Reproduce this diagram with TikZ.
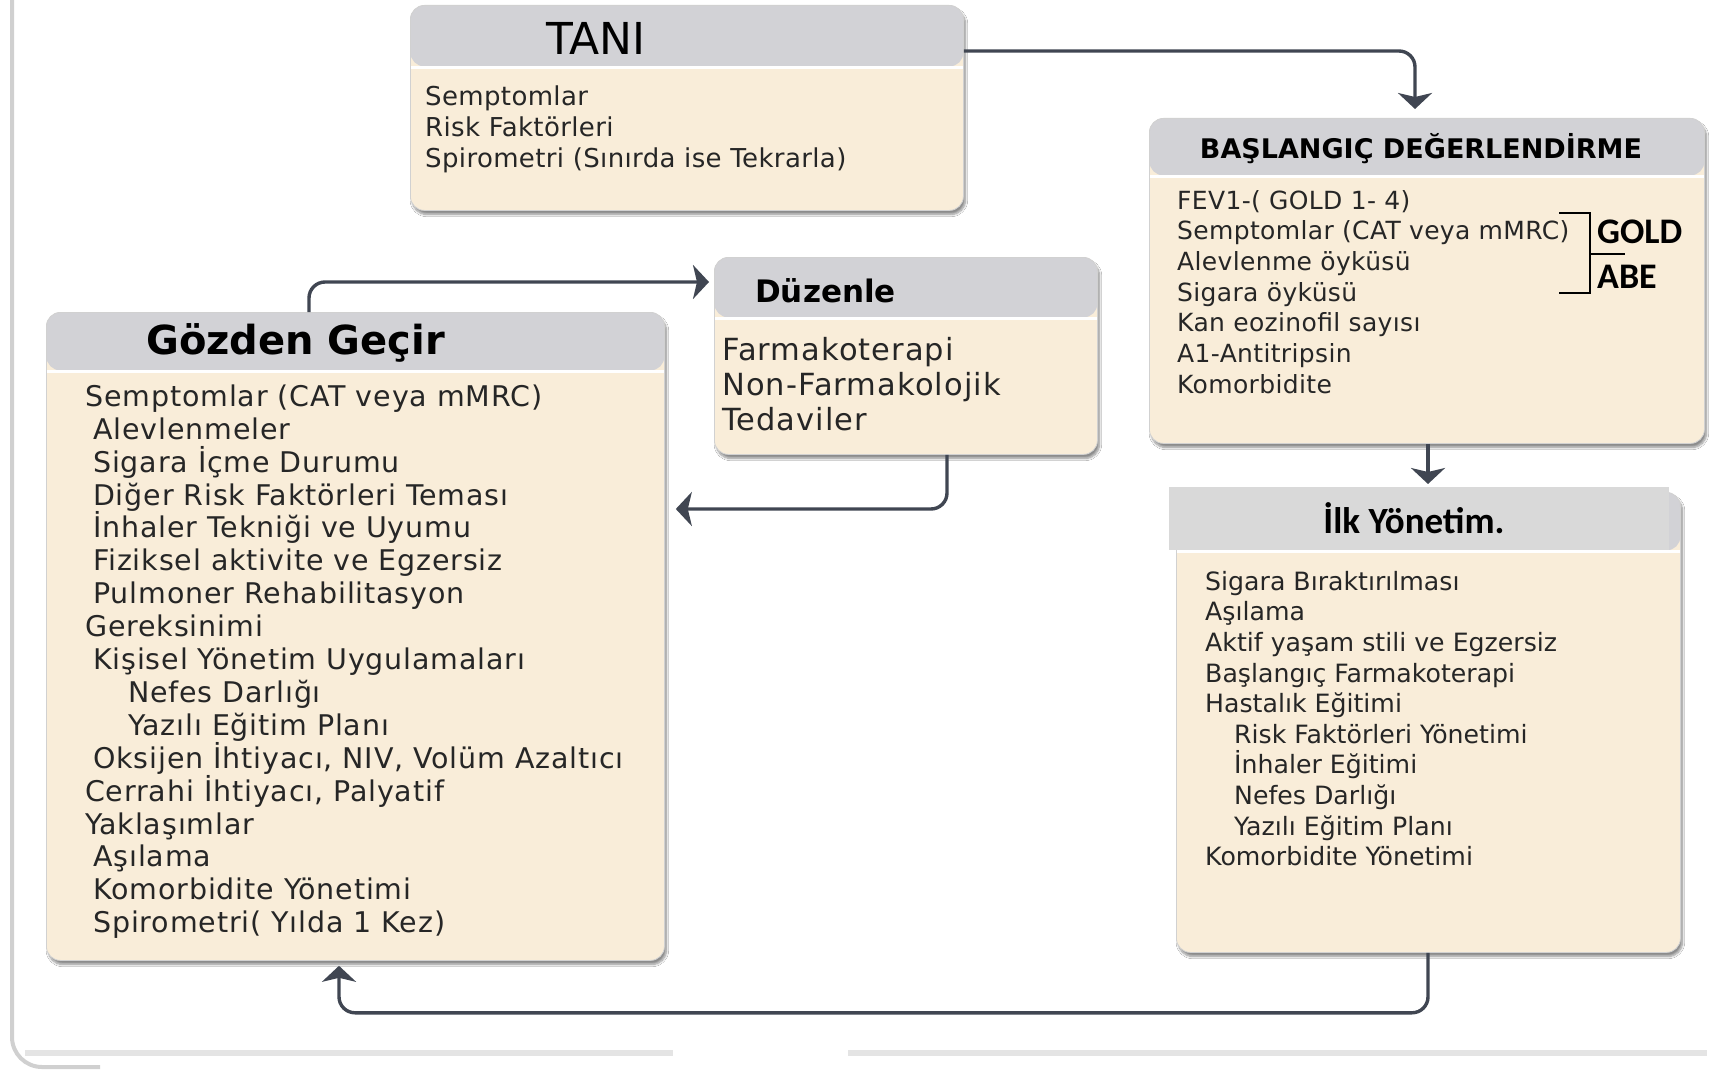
\documentclass[tikz,border=0pt]{standalone}
\usepackage{fontspec}
\setmainfont{DejaVu Sans}
\newfontfamily\calib{Carlito}
\newfontfamily\spA{DejaVu Sans}[LetterSpace=3]
\newfontfamily\spB{DejaVu Sans}[LetterSpace=3.5]
\newfontfamily\spC{DejaVu Sans}[LetterSpace=1.4]
\usetikzlibrary{arrows.meta,calc,shadows.blur}

\definecolor{cream}{HTML}{F9EDD9}
\definecolor{headgray}{HTML}{D2D2D6}
\definecolor{headgrayB}{HTML}{D9D9D9}
\definecolor{linkc}{HTML}{404652}
\definecolor{txt}{HTML}{262626}
\definecolor{framec}{HTML}{D0D0D0}
\definecolor{rulec}{HTML}{E4E4E4}

\tikzset{
  panel/.style={draw=black!18, line width=0.8pt, fill=cream, rounded corners=14pt,
    inner sep=0pt, anchor=north west,
    blur shadow={shadow xshift=2pt, shadow yshift=-4pt, shadow blur steps=8, shadow opacity=45},
    path picture={
      \fill[headgray] (path picture bounding box.north west) rectangle
        ($(path picture bounding box.north east)+(0,#1)$);
      \draw[white, line width=3pt] ($(path picture bounding box.north west)+(0,#1+1.5)$) --
        ($(path picture bounding box.north east)+(0,#1+1.5)$);
    }},
  link/.style={draw=linkc, line width=3.4pt, rounded corners=16pt,
    -{Stealth[length=16pt,width=34pt,inset=4pt]}},
  linetxt/.style={anchor=base west, inner sep=0pt, text=txt},
  brk/.style={draw=black, line width=2pt},
}

\begin{document}
\begin{tikzpicture}[x=1pt, y=-1pt]
\useasboundingbox (0,0) rectangle (1716,1070);
\fill[white] (0,0) rectangle (1716,1070);

% outer frame and bottom rule
\draw[framec, line width=4pt, rounded corners=30pt] (12,-10) -- (12,1067) -- (100,1067);
\draw[rulec, line width=6pt] (25,1053) -- (673,1053);
\draw[rulec, line width=6pt] (848,1053) -- (1707,1053);

% panels
\node[panel=61, minimum width=553, minimum height=205] (tani) at (410,5) {};
\node[panel=57, minimum width=555, minimum height=325] (bas) at (1149,118) {};
\node[panel=60, minimum width=383, minimum height=197] (duz) at (714,257) {};
\node[panel=58, minimum width=618, minimum height=648] (gozden) at (46,312) {};
\node[panel=58, minimum width=504, minimum height=460] (ilk) at (1176,492) {};
\node[fill=headgrayB, minimum width=500, minimum height=63, anchor=north west, inner sep=0pt] (ilkhead) at (1169,487) {};

% titles
\node[anchor=base, inner sep=0pt, font=\fontsize{44}{50}\selectfont] (taniT) at (596,55) {TANI};
\node[anchor=base, inner sep=0pt, font=\bfseries\fontsize{27}{32}\selectfont] (basT) at (1421,159) {BAŞLANGIÇ DEĞERLENDİRME};
\node[anchor=base west, inner sep=0pt, font=\bfseries\fontsize{31}{36}\selectfont] (duzT) at (755,302) {Düzenle};
\node[anchor=base west, inner sep=0pt, font=\bfseries\fontsize{40}{46}\selectfont] (gozT) at (146,354) {Gözden Geçir};
\node[anchor=base, inner sep=0pt, font=\calib\bfseries\fontsize{37}{44}\selectfont] (ilkT) at (1414,533) {İlk Yönetim.};

% TANI items
\foreach \t [count=\i from 0] in {Semptomlar, Risk Faktörleri, Spirometri (Sınırda ise Tekrarla)}
  \node[linetxt, font=\spC\fontsize{26}{30}\selectfont] (tn\i) at (425,105.4+31*\i) {\t};

% BASLANGIC items
\foreach \t [count=\i from 0] in {FEV1-( GOLD 1- 4), Semptomlar (CAT veya mMRC), Alevlenme öyküsü,
    Sigara öyküsü, Kan eozinofil sayısı, A1-Antitripsin, Komorbidite}
  \node[linetxt, font=\spC\fontsize{25}{30}\selectfont] (bs\i) at (1177,209+30.7*\i) {\t};

% GOLD / ABE bracket
\draw[brk] (1559,213) -- (1590,213) -- (1590,293) -- (1559,293);
\draw[brk] (1590,254) -- (1625,254);
\node[anchor=base west, inner sep=0pt, font=\calib\bfseries\fontsize{36}{40}\selectfont] (gold) at (1597,243.5) {GOLD};
\node[anchor=base west, inner sep=0pt, font=\calib\bfseries\fontsize{36}{40}\selectfont] (abe) at (1597,288.5) {ABE};

% Duzenle items
\foreach \t [count=\i from 0] in {Farmakoterapi, Non-Farmakolojik, Tedaviler}
  \node[linetxt, font=\spB\fontsize{30.5}{35}\selectfont] (dz\i) at (722,360+35*\i) {\t};

% Gozden Gecir items
\foreach \d/\t [count=\i from 0] in {
    0/Semptomlar (CAT veya mMRC),
    8/Alevlenmeler,
    8/Sigara İçme Durumu,
    8/Diğer Risk Faktörleri Teması,
    8/İnhaler Tekniği ve Uyumu,
    8/Fiziksel aktivite ve Egzersiz,
    8/Pulmoner Rehabilitasyon,
    0/Gereksinimi,
    8/Kişisel Yönetim Uygulamaları,
    43/Nefes Darlığı,
    43/Yazılı Eğitim Planı,
    8/{Oksijen İhtiyacı, NIV, Volüm Azaltıcı},
    0/{Cerrahi İhtiyacı, Palyatif},
    0/Yaklaşımlar,
    8/Aşılama,
    8/Komorbidite Yönetimi,
    8/Spirometri( Yılda 1 Kez)}
  \node[linetxt, font=\spA\fontsize{28.5}{33}\selectfont] (gz\i) at (85+\d,406.3+32.9*\i) {\t};

% Ilk Yonetim items
\foreach \d/\t [count=\i from 0] in {
    0/Sigara Bıraktırılması,
    0/Aşılama,
    0/Aktif yaşam stili ve Egzersiz,
    0/Başlangıç Farmakoterapi,
    0/Hastalık Eğitimi,
    29/Risk Faktörleri Yönetimi,
    29/İnhaler Eğitimi,
    29/Nefes Darlığı,
    29/Yazılı Eğitim Planı,
    0/Komorbidite Yönetimi}
  \node[linetxt, font=\fontsize{25.2}{30}\selectfont] (il\i) at (1205+\d,590.2+30.6*\i) {\t};

% connectors
\draw[link] ($(tani.north east)+(0,46)$) -| ($(bas.north west)+(266,-9)$);
\draw[link] ($(bas.south west)+(279,0)$) -- ($(ilkhead.north west)+(259,-3)$);
\draw[link] ($(ilk.south west)+(252,0)$) -- ++(0,60) -| ($(gozden.south west)+(293,5)$);
\draw[link] ($(gozden.north west)+(263,0)$) |- ($(duz.north west)+(-5,25)$);
\draw[link] ($(duz.south west)+(233,0)$) |- ($(gozden.north east)+(11,197)$);
\end{tikzpicture}
\end{document}
